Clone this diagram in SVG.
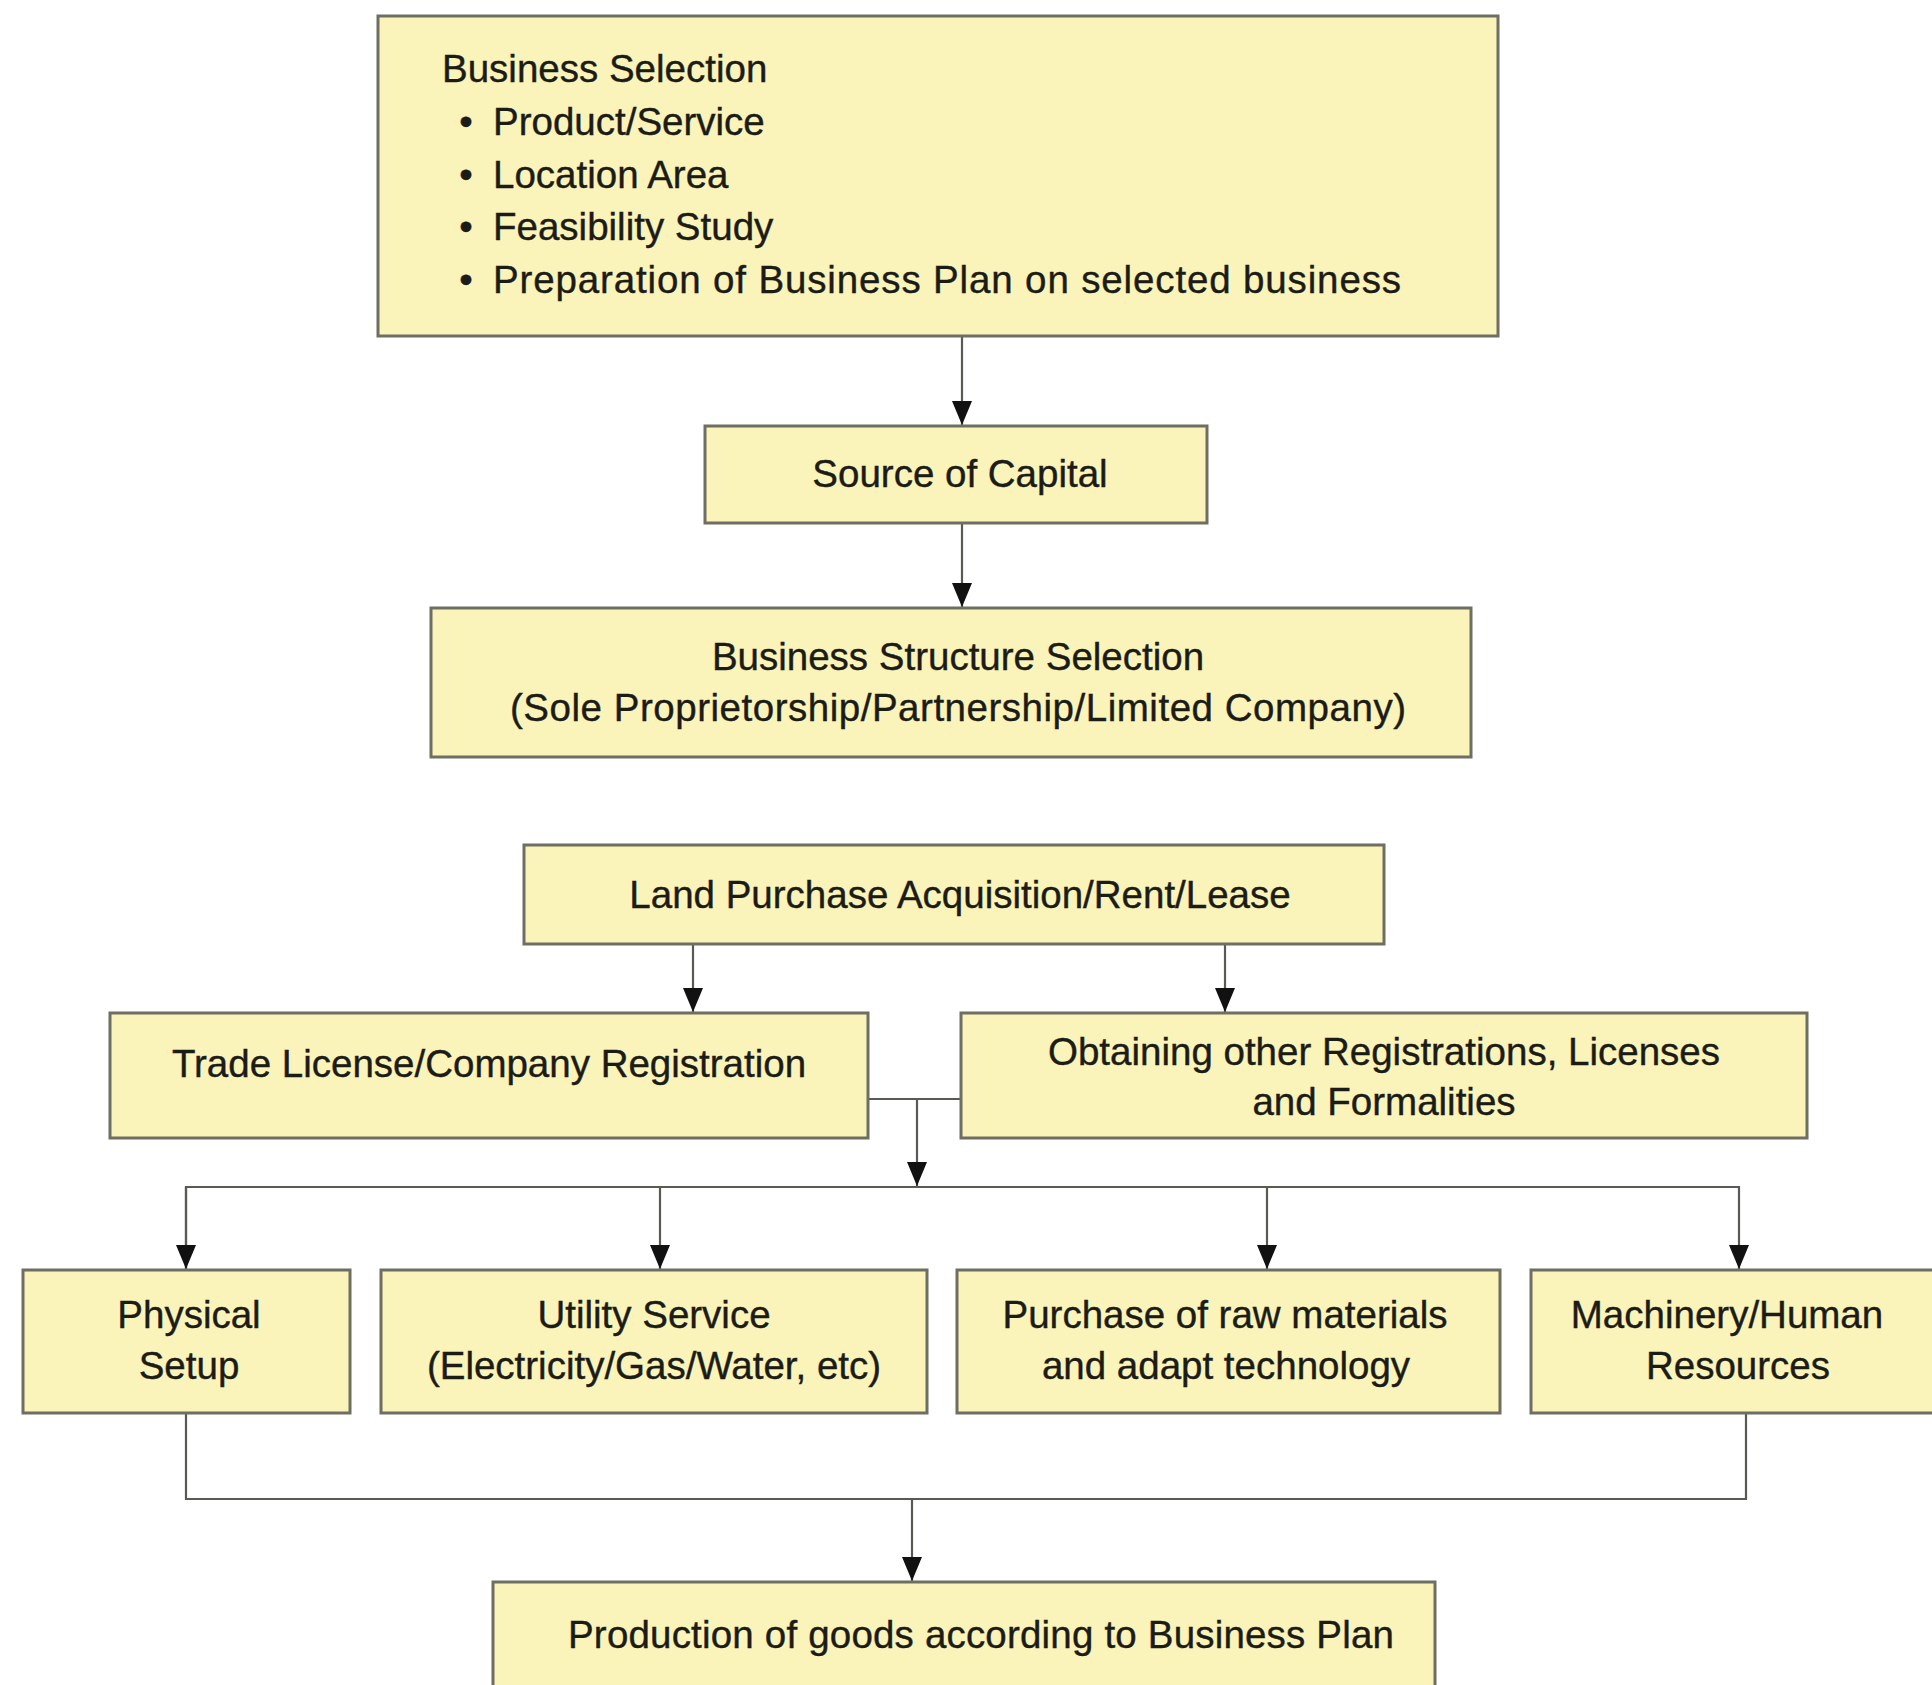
<svg xmlns="http://www.w3.org/2000/svg" width="1932" height="1685" viewBox="0 0 1932 1685">
  <style>
    .box { fill: #faf3ba; stroke: #6e6e62; stroke-width: 3; }
    .lbl { font-family: "Liberation Sans", Arial, sans-serif; font-size: 38.5px; fill: #1c1c16; stroke: #1c1c16; stroke-width: 0.4; }
    .mid { text-anchor: middle; }
    .wire { fill: none; stroke: #5a5a55; stroke-width: 2.2; }
  </style>
  <defs>
    <marker id="arr" markerUnits="userSpaceOnUse" markerWidth="24" markerHeight="20" refX="24" refY="10" orient="auto">
      <path d="M0,0 L24,10 L0,20 Z" fill="#111"/>
    </marker>
  </defs>

  <rect width="1932" height="1685" fill="#ffffff"/>

  <!-- connectors -->
  <g id="connectors">
    <path class="wire" d="M962,336 V425" marker-end="url(#arr)"/>
    <path class="wire" d="M962,523 V607" marker-end="url(#arr)"/>
    <path class="wire" d="M693,944 V1012" marker-end="url(#arr)"/>
    <path class="wire" d="M1225,944 V1012" marker-end="url(#arr)"/>
    <path class="wire" d="M868,1099 H961"/>
    <path class="wire" d="M917,1099 V1186" marker-end="url(#arr)"/>
    <path class="wire" d="M186,1269 V1187 H1739 V1269" marker-end="url(#arr)"/>
    <path class="wire" d="M186,1187 V1269" marker-end="url(#arr)"/>
    <path class="wire" d="M660,1187 V1269" marker-end="url(#arr)"/>
    <path class="wire" d="M1267,1187 V1269" marker-end="url(#arr)"/>
    <path class="wire" d="M186,1413 V1499 H1746 V1413"/>
    <path class="wire" d="M912,1499 V1581" marker-end="url(#arr)"/>
  </g>

  <g id="business-selection">
    <rect class="box" x="378" y="16" width="1120" height="320"/>
    <text class="lbl" x="442" y="82">Business Selection</text>
    <text class="lbl" x="466" y="135" text-anchor="middle">•</text>
    <text class="lbl" x="493" y="135">Product/Service</text>
    <text class="lbl" x="466" y="188" text-anchor="middle">•</text>
    <text class="lbl" x="493" y="188">Location Area</text>
    <text class="lbl" x="466" y="240" text-anchor="middle">•</text>
    <text class="lbl" x="493" y="240">Feasibility Study</text>
    <text class="lbl" x="466" y="293" text-anchor="middle">•</text>
    <text class="lbl" x="493" y="293" textLength="908">Preparation of Business Plan on selected business</text>
  </g>

  <g id="source-of-capital">
    <rect class="box" x="705" y="426" width="502" height="97"/>
    <text class="lbl mid" x="960" y="487">Source of Capital</text>
  </g>

  <g id="business-structure">
    <rect class="box" x="431" y="608" width="1040" height="149"/>
    <text class="lbl mid" x="958" y="670">Business Structure Selection</text>
    <text class="lbl mid" x="958" y="721" textLength="896">(Sole Proprietorship/Partnership/Limited Company)</text>
  </g>

  <g id="land-purchase">
    <rect class="box" x="524" y="845" width="860" height="99"/>
    <text class="lbl mid" x="960" y="908">Land Purchase Acquisition/Rent/Lease</text>
  </g>

  <g id="trade-license">
    <rect class="box" x="110" y="1013" width="758" height="125"/>
    <text class="lbl mid" x="489" y="1077">Trade License/Company Registration</text>
  </g>

  <g id="other-registrations">
    <rect class="box" x="961" y="1013" width="846" height="125"/>
    <text class="lbl mid" x="1384" y="1065">Obtaining other Registrations, Licenses</text>
    <text class="lbl mid" x="1384" y="1115">and Formalities</text>
  </g>

  <g id="physical-setup">
    <rect class="box" x="23" y="1270" width="327" height="143"/>
    <text class="lbl mid" x="189" y="1328">Physical</text>
    <text class="lbl mid" x="189" y="1379">Setup</text>
  </g>

  <g id="utility-service">
    <rect class="box" x="381" y="1270" width="546" height="143"/>
    <text class="lbl mid" x="654" y="1328">Utility Service</text>
    <text class="lbl mid" x="654" y="1379">(Electricity/Gas/Water, etc)</text>
  </g>

  <g id="raw-materials">
    <rect class="box" x="957" y="1270" width="543" height="143"/>
    <text class="lbl mid" x="1225" y="1328">Purchase of raw materials</text>
    <text class="lbl mid" x="1226" y="1379">and adapt technology</text>
  </g>

  <g id="machinery">
    <rect class="box" x="1531" y="1270" width="410" height="143"/>
    <text class="lbl mid" x="1727" y="1328">Machinery/Human</text>
    <text class="lbl mid" x="1738" y="1379">Resources</text>
  </g>

  <g id="production">
    <rect class="box" x="493" y="1582" width="942" height="120"/>
    <text class="lbl mid" x="981" y="1648" textLength="826">Production of goods according to Business Plan</text>
  </g>
</svg>
